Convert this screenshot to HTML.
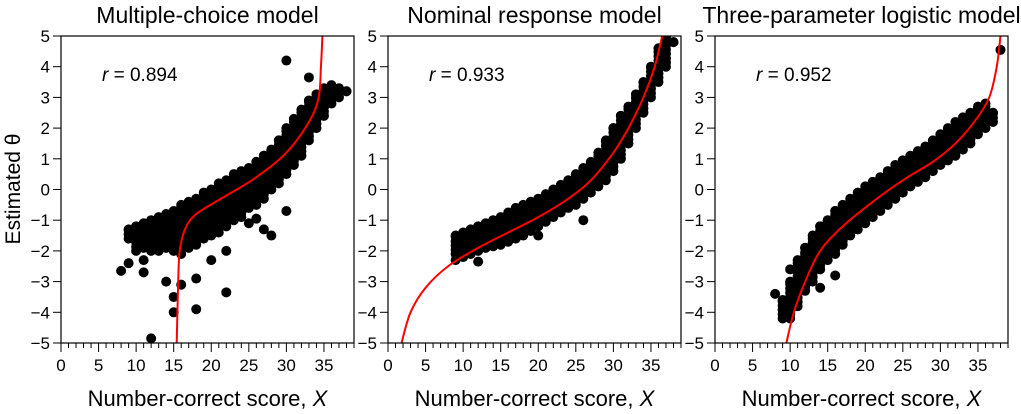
<!DOCTYPE html>
<html><head><meta charset="utf-8"><style>
html,body{margin:0;padding:0;background:#fff}
svg{display:block;font-family:"Liberation Sans",Arial,sans-serif}
</style></head><body>
<svg id="c" width="1021" height="414"></svg>
<script>
// Panel 1 (multiple-choice) cloud bands
const p1X=[9,10,11,12,13,14,15,16,17,18,19,20,21,22,23,24,25,26,27,28,29,30,31,32,33,34,35,36,37,38];
const p1Lo=[-1.6,-2.0,-1.9,-2.0,-2.0,-1.9,-2.0,-2.1,-1.9,-1.8,-1.6,-1.5,-1.4,-1.2,-1.0,-0.9,-0.6,-0.5,-0.3,0,0.2,0.5,0.8,1.1,1.6,2.0,2.4,2.8,3.0,3.2];
const p1Hi=[-1.3,-1.2,-1.1,-1.0,-0.9,-0.8,-0.7,-0.5,-0.4,-0.3,-0.1,0,0.2,0.3,0.5,0.6,0.7,0.9,1.1,1.3,1.6,2.0,2.3,2.6,2.9,3.1,3.3,3.4,3.3,3.2];
const p1OutX=[8,9,11,11,12,14,15,15,16,18,22,18,30,33,30,27,28,26,25,22,20];
const p1OutY=[-2.65,-2.4,-2.3,-2.7,-4.85,-3.0,-3.5,-4.0,-3.1,-3.9,-3.35,-2.9,4.2,3.65,-0.7,-1.3,-1.5,-0.95,-1.1,-2.0,-2.3];
const p1CurveX=[15.4,15.6,15.8,16.5,18,22,26,30,33,34.3,34.6,34.8];
const p1CurveY=[-5,-3,-2,-1.3,-0.8,-0.2,0.4,1.2,2.2,3,4,5];
// Panel 2 (nominal response)
const p2X=[9,10,11,12,13,14,15,16,17,18,19,20,21,22,23,24,25,26,27,28,29,30,31,32,33,34,35,36,37,38];
const p2Lo=[-2.1,-2.2,-2.1,-2.0,-1.9,-1.85,-1.8,-1.7,-1.6,-1.5,-1.35,-1.2,-1.05,-0.9,-0.75,-0.6,-0.5,-0.3,-0.1,0.1,0.3,0.6,1.0,1.5,2.0,2.5,3.0,3.5,4.0,4.8];
const p2Hi=[-1.5,-1.4,-1.3,-1.2,-1.1,-1.0,-0.9,-0.75,-0.6,-0.5,-0.4,-0.3,-0.15,0,0.15,0.3,0.5,0.7,0.9,1.2,1.6,2.0,2.4,2.7,3.1,3.5,4.0,4.6,5.0,4.8];
const p2OutX=[9,12,20,26];
const p2OutY=[-2.3,-2.35,-1.5,-1.0];
const p2CurveX=[1.8,3,5,8,12,16,20,24,27,30,32,34,35.5,36.5];
const p2CurveY=[-5,-4,-3.2,-2.5,-1.9,-1.4,-0.9,-0.3,0.3,1.2,2.0,3.0,4.0,5];
// Panel 3 (three-parameter logistic)
const p3X=[9,10,11,12,13,14,15,16,17,18,19,20,21,22,23,24,25,26,27,28,29,30,31,32,33,34,35,36,37];
const p3Lo=[-4.2,-4.2,-3.8,-3.3,-3.0,-2.6,-2.3,-2.1,-1.8,-1.5,-1.3,-1.1,-0.9,-0.7,-0.5,-0.3,-0.1,0.1,0.25,0.4,0.6,0.8,0.95,1.1,1.3,1.5,1.8,2.0,2.2];
const p3Hi=[-3.6,-3.0,-2.3,-1.9,-1.5,-1.2,-1.0,-0.7,-0.5,-0.3,-0.1,0.1,0.25,0.4,0.6,0.8,0.95,1.1,1.25,1.4,1.6,1.8,2.0,2.2,2.35,2.5,2.7,2.8,2.5];
const p3OutX=[8,38,10,12,14,16];
const p3OutY=[-3.4,4.55,-2.6,-2.1,-3.2,-2.8];
const p3CurveX=[9.5,10.5,12,14,17,21,25,29,32,34.5,36.5,37.5,38];
const p3CurveY=[-5,-4,-3,-2,-1.2,-0.4,0.3,0.9,1.5,2.2,3,4,5];
const xTicks=[0,5,10,15,20,25,30,35];
const yTicks=[-5,-4,-3,-2,-1,0,1,2,3,4,5];
const titles=["Multiple-choice model","Nominal response model","Three-parameter logistic model"];
const rLabels=["0.894","0.933","0.952"];
const panels=[
 {bx:p1X,lo:p1Lo,hi:p1Hi,ox:p1OutX,oy:p1OutY,cx:p1CurveX,cy:p1CurveY},
 {bx:p2X,lo:p2Lo,hi:p2Hi,ox:p2OutX,oy:p2OutY,cx:p2CurveX,cy:p2CurveY},
 {bx:p3X,lo:p3Lo,hi:p3Hi,ox:p3OutX,oy:p3OutY,cx:p3CurveX,cy:p3CurveY}];
const lefts=[61,388,715];
const W=293, TOP=36, BOT=343, XMAX=39;
const NS="http://www.w3.org/2000/svg";
const svg=document.getElementById('c');
function mk(t,a,p){const e=document.createElementNS(NS,t);for(const k in a)e.setAttribute(k,a[k]);(p||svg).appendChild(e);return e;}
panels.forEach((P,i)=>{
 const L=lefts[i];
 const sx=v=>L+v/XMAX*W, sy=v=>BOT-(v+5)/10*(BOT-TOP);
 const g=mk('g',{});
 
 
 const clip=mk('clipPath',{id:'cl'+i},g);
 mk('rect',{x:L,y:TOP,width:W,height:BOT-TOP},clip);
 const pts=mk('g',{'clip-path':'url(#cl'+i+')'},g);
 
 
 P.bx.forEach((x,j)=>{
  for(let v=P.lo[j];v<=P.hi[j]+1e-6;v+=0.14){
   const c=mk('circle',{cx:sx(x),cy:sy(v),r:5,fill:'#000'},pts);
   
   
  }
  const c=mk('circle',{cx:sx(x),cy:sy(P.hi[j]),r:5,fill:'#000'},pts);
  
  
 });
 P.ox.forEach((x,j)=>{
  const c=mk('circle',{cx:sx(x),cy:sy(P.oy[j]),r:5,fill:'#000'},pts);
  
  
 });
 const X=P.cx.map(sx),Y=P.cy.map(sy);
 let d='M'+X[0]+','+Y[0];
 for(let k=0;k<X.length-1;k++){
  const x0=X[k-1]??X[k],y0=Y[k-1]??Y[k],x3=X[k+2]??X[k+1],y3=Y[k+2]??Y[k+1];
  d+=' C'+(X[k]+(X[k+1]-x0)/6)+','+(Y[k]+(Y[k+1]-y0)/6)+' '+(X[k+1]-(x3-X[k])/6)+','+(Y[k+1]-(y3-Y[k])/6)+' '+X[k+1]+','+Y[k+1];
 }
 const cv=mk('path',{d:d,fill:'none',stroke:'#f00','stroke-width':2,'clip-path':'url(#cl'+i+')'},g);
 
 
 const fr=mk('rect',{x:L,y:TOP,width:W,height:BOT-TOP,fill:'none',stroke:'#000','stroke-width':1.2},g);
 
 
 for(let t=0;t<=XMAX;t++){
  mk('line',{x1:sx(t),x2:sx(t),y1:BOT,y2:BOT+(t%5==0?9:5),stroke:'#000','stroke-width':1},g);
 }
 xTicks.forEach(t=>{
  const tx=mk('text',{x:sx(t),y:BOT+28,'font-size':17,'text-anchor':'middle'},g);
  tx.textContent=t;
  
  
 });
 yTicks.forEach(t=>{
  mk('line',{x1:L-8,x2:L,y1:sy(t),y2:sy(t),stroke:'#000','stroke-width':1},g);
  const ty=mk('text',{x:L-11,y:sy(t)+6,'font-size':17,'text-anchor':'end'},g);
  ty.textContent=t<0?'\u2212'+(-t):t;
  
  
 });
 const ti=mk('text',{x:L+W/2,y:23,'font-size':23,'text-anchor':'middle'},g);
 ti.textContent=titles[i];
 
 
 const rl=mk('text',{x:L+41,y:81,'font-size':19},g);
 rl.innerHTML='<tspan font-style="italic">r</tspan> = '+rLabels[i];
 
 
 const xt=mk('text',{x:L+W/2,y:406,'font-size':22,'text-anchor':'middle'},g);
 xt.innerHTML='Number-correct score, <tspan font-style="italic">X</tspan>';
 
 
});
const yt=mk('text',{x:0,y:0,'font-size':21,'text-anchor':'middle',transform:'translate(20,189) rotate(-90)'});
yt.textContent='Estimated \u03b8';


</script>
</body></html>
